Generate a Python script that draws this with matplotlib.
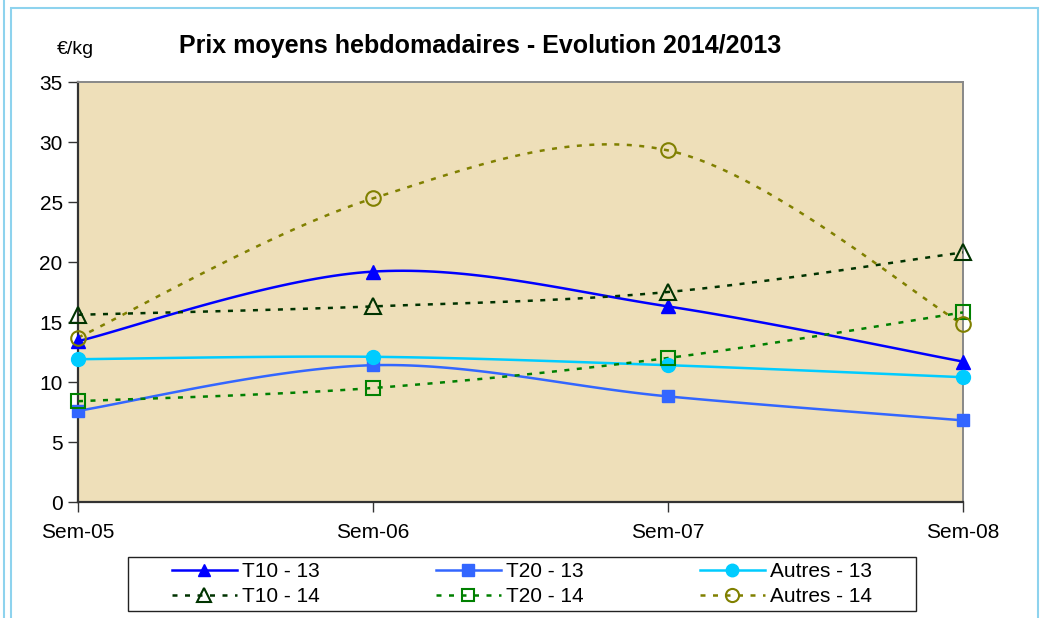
import numpy as np
import matplotlib
matplotlib.use("Agg")
import matplotlib.pyplot as plt
from matplotlib.patches import Rectangle
from matplotlib.lines import Line2D

plt.rcParams['font.family'] = ['Liberation Sans', 'DejaVu Sans']

weeks = ["Sem-05", "Sem-06", "Sem-07", "Sem-08"]
t10_13 = [13.4, 19.2, 16.3, 11.7]
t20_13 = [7.6, 11.4, 8.8, 6.8]
autres_13 = [11.9, 12.1, 11.4, 10.4]
t10_14 = [15.6, 16.3, 17.5, 20.8]
t20_14 = [8.4, 9.5, 12.0, 15.8]
autres_14 = [13.7, 25.3, 29.3, 14.8]


def smooth(xs, ys, n=40):
    # Excel-like smoothed line: cubic Bezier with control points from neighbours
    xs = np.asarray(xs, float)
    ys = np.asarray(ys, float)
    pts = np.column_stack([xs, ys])
    out = []
    for i in range(len(pts) - 1):
        p0 = pts[i - 1] if i > 0 else pts[i]
        p1, p2 = pts[i], pts[i + 1]
        p3 = pts[i + 2] if i + 2 < len(pts) else pts[i + 1]
        c1 = p1 + (p2 - p0) / 6
        c2 = p2 - (p3 - p1) / 6
        t = np.linspace(0, 1, n)[:, None]
        seg = ((1 - t) ** 3 * p1 + 3 * (1 - t) ** 2 * t * c1
               + 3 * (1 - t) * t ** 2 * c2 + t ** 3 * p2)
        out.append(seg if i == 0 else seg[1:])
    seg = np.vstack(out)
    return seg[:, 0], seg[:, 1]


fig = plt.figure(figsize=(10.44, 6.18), dpi=100)
W, H = 1044, 618

# outer frame lines
fig.add_artist(Line2D([4 / W, 4 / W], [0, 1], color='#8ED3EE', lw=1.5))
fig.add_artist(Rectangle((11 / W, -0.05), 1027 / W, 1.05 - 8 / H,
                         fill=False, ec='#8ED3EE', lw=1.5,
                         transform=fig.transFigure))

ax = fig.add_axes([78 / W, 1 - 502 / H, (963 - 78) / W, (502 - 82) / H])
ax.set_facecolor('#EEDFB9')

x = np.arange(len(weeks))
dots = (0, (2, 3))
series = [
    (t10_13, "T10 - 13", dict(color='#0000FF', ls='-', lw=1.8),
     dict(marker='^', ms=10, mfc='#0000FF', mec='#0000FF')),
    (t20_13, "T20 - 13", dict(color='#3366FF', ls='-', lw=1.8),
     dict(marker='s', ms=9, mfc='#3366FF', mec='#3366FF')),
    (autres_13, "Autres - 13", dict(color='#00CCFF', ls='-', lw=1.8),
     dict(marker='o', ms=10, mfc='#00CCFF', mec='#00CCFF')),
    (t10_14, "T10 - 14", dict(color='#003300', ls=dots, lw=1.8),
     dict(marker='^', ms=11, mfc='none', mec='#003300', mew=1.5)),
    (t20_14, "T20 - 14", dict(color='#008000', ls=dots, lw=1.8),
     dict(marker='s', ms=9.5, mfc='none', mec='#008000', mew=1.5)),
    (autres_14, "Autres - 14", dict(color='#808000', ls=dots, lw=1.8),
     dict(marker='o', ms=10.5, mfc='none', mec='#808000', mew=1.5)),
]

handles = []
for ys, label, lstyle, mstyle in series:
    sx, sy = smooth(x, ys)
    ax.plot(sx, sy, **lstyle, zorder=3)
    ax.plot(x, ys, ls='none', zorder=4, clip_on=False, **mstyle)
    handles.append(Line2D([], [], label=label, **lstyle, **mstyle))

ax.set_xlim(0, 3)
ax.set_ylim(0, 35)
ax.set_yticks(range(0, 36, 5))
ax.set_xticks(x)
ax.set_xticklabels(weeks)
ax.tick_params(axis='both', labelsize=15, direction='out', length=7,
               width=1, color='#333333')
ax.tick_params(axis='x', pad=8)
ax.tick_params(axis='y', pad=4)
for side in ('left', 'bottom'):
    ax.spines[side].set_color('#333333')
    ax.spines[side].set_linewidth(1.6)
for side in ('top', 'right'):
    ax.spines[side].set_color('#888888')
    ax.spines[side].set_linewidth(1.4)

fig.text(480 / W, 1 - 46 / H, "Prix moyens hebdomadaires - Evolution 2014/2013",
         ha='center', va='center', fontsize=18, fontweight='bold')
fig.text(75 / W, 1 - 50 / H, "€/kg", ha='center', va='center', fontsize=14)

# legend box drawn separately, entries spread across inner width
fig.add_artist(Rectangle((128 / W, 1 - 611 / H), (916 - 128) / W, (611 - 557) / H,
                         fill=False, ec='#222222', lw=1.0,
                         transform=fig.transFigure))
order = [0, 3, 1, 4, 2, 5]
leg = fig.legend([handles[i] for i in order], [handles[i].get_label() for i in order],
                 ncol=3, loc='center',
                 bbox_to_anchor=(172 / W, 1 - 611 / H, (872 - 172) / W, (611 - 557) / H),
                 mode='expand', fontsize=15, frameon=False, borderpad=0,
                 handlelength=3.1, handletextpad=0.25, labelspacing=0.3,
                 columnspacing=1.0, borderaxespad=0, markerscale=0.9)

fig.savefig("out.png", dpi=100)
